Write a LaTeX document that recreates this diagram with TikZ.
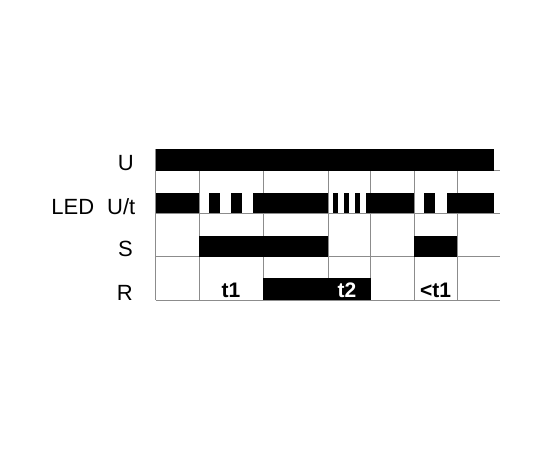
\documentclass[tikz,border=0pt]{standalone}
\usepackage{fontspec}
\setmainfont{Liberation Sans}
\tikzset{
  gridline/.style={draw=black!45,line width=0.9pt},
  bar/.style={fill=black},
  lbl/.style={anchor=base east,inner sep=0pt,font=\fontsize{22}{26}\selectfont},
  tlbl/.style={anchor=base,inner sep=0pt,font=\fontsize{21}{25}\selectfont\bfseries},
}
\begin{document}
\begin{tikzpicture}[x=1pt,y=-1pt]
\useasboundingbox (0,0) rectangle (550,450);
% grid
\foreach \y in {170.7,213.3,256.7,300}
  \draw[gridline] (155.7,\y) -- (500,\y);
\draw[gridline] (155.7,149.3) -- (155.7,300);
\foreach \x in {199,263.3,328,370.7,414,457.3}
  \draw[gridline] (\x,170.7) -- (\x,300);
% U
\fill[bar] (155.7,149.3) rectangle (494.3,170.7);
% LED U/t
\foreach \a/\b in {155.7/199,209.3/220,231/241.7,253.3/328,332.5/337.8,343.5/348.8,354.5/359.8,365.7/414,424.3/435,446.7/494.3}
  \fill[bar] (\a,192.7) rectangle (\b,213.3);
% S
\fill[bar] (199,235.7) rectangle (328,256.7);
\fill[bar] (414,235.7) rectangle (457.3,256.7);
% R
\fill[bar] (263.3,278.3) rectangle (370.7,300);
% labels
\node[lbl] (lU) at (134,170.7) {U};
\node[lbl] (lLED) at (135.5,214) {LED\hspace{13pt}U/t};
\node[lbl] (lS) at (133,256.7) {S};
\node[lbl] (lR) at (133,300) {R};
\node[tlbl] (t1) at (231,297) {t1};
\node[tlbl,text=white] (t2) at (347,297) {t2};
\node[tlbl] (t3) at (435.5,297) {<t1};
\end{tikzpicture}
\end{document}
